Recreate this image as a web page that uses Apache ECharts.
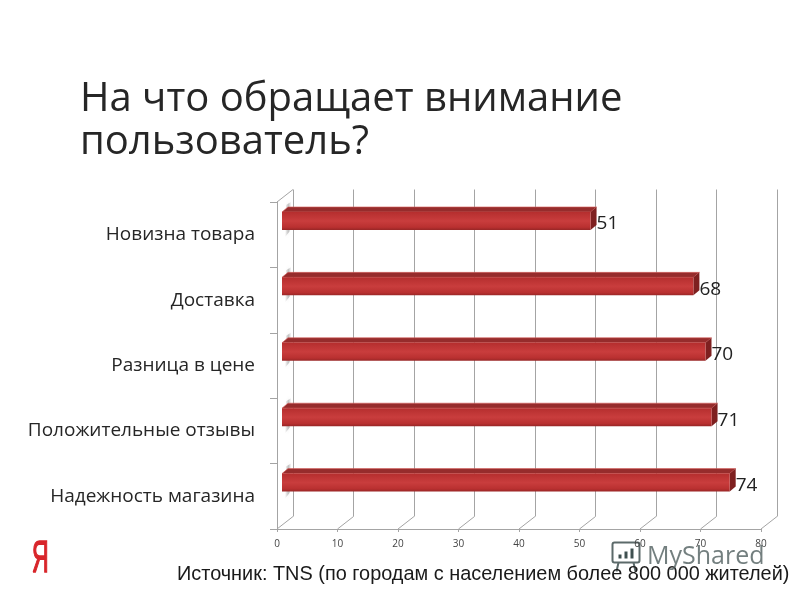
<!DOCTYPE html>
<html><head><meta charset="utf-8">
<style>html,body{margin:0;padding:0;background:#fff}#c{width:800px;height:600px}</style>
<script src="https://cdn.jsdelivr.net/npm/echarts@6/dist/echarts.min.js"></script>
</head><body><div id="c"></div>
<script>
var categories = ['Новизна товара','Доставка','Разница в цене','Положительные отзывы','Надежность магазина'];
var values = [51,68,70,71,74];
var ticks = [0,10,20,30,40,50,60,70,80];
var FONT = '"Open Sans"';
var DX = 16, DY = -12.5;
var gridLine = '#a4a4a4';

var chart = echarts.init(document.getElementById('c'), null, {renderer:'canvas'});
function renderBar(params, api){
  var v = api.value(1), cat = api.value(0);
  var p0 = api.coord([0,cat]), p1 = api.coord([v,cat]);
  var band = api.size([0,1])[1];
  var x0 = p0[0]+5, x1 = p1[0]+5, yc = p0[1]-band*0.21, h = 18, t = 5, d = 6;
  var y0 = yc-h/2, y1 = yc+h/2;
  var fade = {type:'linear',x:0,y:0,x2:1,y2:0,colorStops:[
    {offset:0,color:'rgba(140,140,140,0)'},{offset:0.55,color:'rgba(140,140,140,0.5)'},{offset:1,color:'rgba(140,140,140,0.08)'}]};
  return {type:'group',children:[
    {type:'polygon',shape:{points:[[x0+4,y0-7],[x0+9,y0-10],[x0+8,y1+1],[x0+3,y1+7]]},
      style:{fill:fade,shadowBlur:4,shadowColor:'rgba(170,170,170,0.35)'}},
    {type:'polygon',shape:{points:[[x0,y0],[x0+d,y0-t],[x1+d,y0-t],[x1,y0]]},
      style:{fill:'#962c2c',stroke:'#d9605c',lineWidth:0.6}},
    {type:'polygon',shape:{points:[[x1,y0],[x1+d,y0-t],[x1+d,y1-t],[x1,y1]]},style:{fill:'#7e2020'}},
    {type:'rect',shape:{x:x0,y:y0,width:x1-x0,height:h},style:{fill:{type:'linear',x:0,y:0,x2:0,y2:1,colorStops:[
      {offset:0,color:'#b52e2e'},{offset:0.5,color:'#c93d3d'},{offset:0.85,color:'#b93030'},{offset:1,color:'#982626'}]}}},
    {type:'text',style:{x:x1+d,y:yc+3,text:String(v),font:'19px '+FONT,fill:'#222',verticalAlign:'middle',align:'left'}}
  ]};
}
function renderDiag(params, api){
  var p = api.coord([api.value(0),0]);
  var bottom = params.coordSys.y+params.coordSys.height;
  return {type:'line',shape:{x1:p[0],y1:bottom,x2:p[0]+DX,y2:bottom+DY},style:{stroke:gridLine,lineWidth:1}};
}
function renderTopDiag(params, api){
  var cs = params.coordSys;
  return {type:'line',shape:{x1:cs.x,y1:cs.y,x2:cs.x+DX,y2:cs.y+DY},style:{stroke:gridLine,lineWidth:1}};
}
chart.setOption({
  animation:false,
  backgroundColor:'#fff',
  title:{text:'На что обращает внимание\nпользователь?',left:80,top:78,padding:0,
    textStyle:{fontFamily:FONT,fontSize:40,fontWeight:'normal',color:'#262626',lineHeight:43}},
  grid:[
    {left:277,top:202,width:484,height:327},
    {left:277+DX,top:202+DY,width:484,height:327}
  ],
  xAxis:[
    {type:'value',gridIndex:0,min:0,max:80,interval:10,
      axisLine:{show:true,lineStyle:{color:gridLine}},
      axisTick:{show:true,length:3,lineStyle:{color:gridLine}},
      splitLine:{show:false},
      axisLabel:{color:'#444',fontSize:10,fontFamily:FONT,margin:10,showMinLabel:true,showMaxLabel:true}},
    {type:'value',gridIndex:1,min:0,max:80,interval:10,
      axisLine:{show:false},axisTick:{show:false},axisLabel:{show:false},
      splitLine:{show:true,lineStyle:{color:gridLine,width:1}}}
  ],
  yAxis:[
    {type:'category',gridIndex:0,data:categories,inverse:true,
      axisLine:{show:true,lineStyle:{color:gridLine}},
      axisTick:{show:true,length:7,alignWithLabel:false,lineStyle:{color:gridLine}},
      axisLabel:{color:'#262626',fontSize:19,fontFamily:FONT,margin:22}},
    {type:'category',gridIndex:1,data:categories,inverse:true,
      axisLine:{show:false},axisTick:{show:false},axisLabel:{show:false}}
  ],
  series:[
    {type:'custom',xAxisIndex:0,yAxisIndex:0,renderItem:renderDiag,data:ticks.map(function(t){return [t];}),encode:{x:0},silent:true,z:1},
    {type:'custom',xAxisIndex:0,yAxisIndex:0,renderItem:renderTopDiag,data:[[0]],encode:{x:0},silent:true,z:1},
    {type:'custom',xAxisIndex:0,yAxisIndex:0,renderItem:renderBar,
      data:values.map(function(v,i){return [i,v];}),encode:{y:0,x:1},z:5}
  ],
  graphic:[
    {type:'text',x:32,y:538,scaleX:0.55,scaleY:1.05,z:10,style:{text:'Я',font:'42px "Liberation Sans"',fill:'#d8252a',stroke:'#d8252a',lineWidth:1.5}},
    {type:'text',left:177,top:565,z:10,style:{text:'Источник: TNS (по городам с населением более 800 000 жителей)',font:'19.9px "Liberation Sans"',fill:'#1a1a1a'}},
    {type:'text',left:647,top:544,z:11,style:{text:'MyShared',font:'25px "Open Sans"',fill:'rgba(80,95,95,0.8)'}},
    {type:'group',left:610,top:540,z:11,children:[
      {type:'rect',shape:{x:3,y:4,width:27,height:20,r:2},style:{fill:'none',stroke:'#5c6a6a',lineWidth:2}},
      {type:'rect',shape:{x:9,y:16,width:3,height:4},style:{fill:'#3f5050'}},
      {type:'rect',shape:{x:15,y:13,width:3,height:7},style:{fill:'#3f5050'}},
      {type:'rect',shape:{x:21,y:10,width:3,height:10},style:{fill:'#3f5050'}},
      {type:'line',shape:{x1:9,y1:24,x2:7,y2:33},style:{stroke:'#5c6a6a',lineWidth:2}},
      {type:'line',shape:{x1:24,y1:24,x2:26,y2:33},style:{stroke:'#5c6a6a',lineWidth:2}}
    ]}
  ]
});
</script></body></html>
